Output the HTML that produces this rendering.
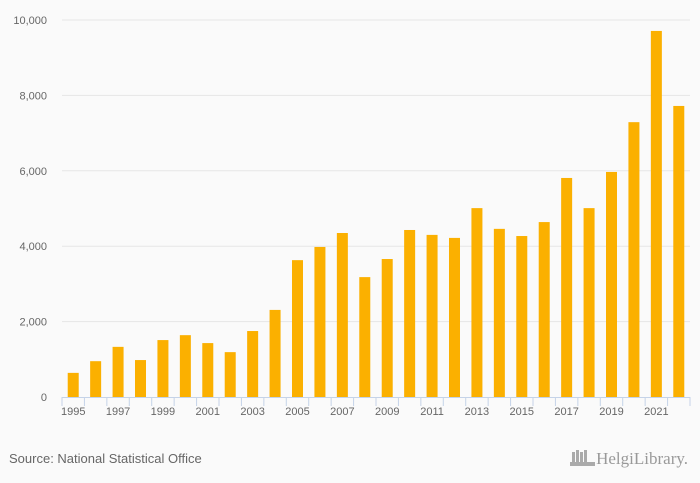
<!DOCTYPE html>
<html><head><meta charset="utf-8"><style>
body{margin:0;background:#fafafa;font-family:"Liberation Sans",sans-serif}
</style></head><body>
<svg id="c" width="700" height="483" style="display:block;background:#fafafa"></svg>
<script>
const years=[1995,1996,1997,1998,1999,2000,2001,2002,2003,2004,2005,2006,2007,2008,2009,2010,2011,2012,2013,2014,2015,2016,2017,2018,2019,2020,2021,2022];
const values=[640,950,1330,980,1510,1640,1430,1190,1750,2310,3630,3980,4350,3180,3660,4430,4300,4220,5010,4460,4270,4640,5810,5010,5970,7290,9710,7720];
const yTicks=[0,2000,4000,6000,8000,10000];
const yTickLabels=["0","2,000","4,000","6,000","8,000","10,000"];
const svg=document.getElementById('c');const NS='http://www.w3.org/2000/svg';
const x0=62,x1=690,y0=397,y1=20,yMax=10000;
const band=(x1-x0)/years.length;
const ys=v=>y0-(v/yMax)*(y0-y1);
const xs=i=>x0+i*band;
function mk(t,a,txt){const e=document.createElementNS(NS,t);for(const k in a)e.setAttribute(k,a[k]);if(txt!=null)e.textContent=txt;svg.appendChild(e);return e;}
yTicks.forEach((t,i)=>{
 if(t>0){const g=mk('line',{x1:x0,x2:x1,y1:ys(t),y2:ys(t),stroke:'#e6e6e6','stroke-width':1});
 
 }
 const l=mk('text',{x:47,y:ys(t)+4,'text-anchor':'end','font-size':11,fill:'#666'},yTickLabels[i]);
 
 
});
values.forEach((v,i)=>{
 const r=mk('rect',{x:xs(i)+band/2-5.5,y:ys(v),width:11,height:y0-ys(v),fill:'#fbb000'});
 
 
});
const ax=mk('line',{x1:x0,x2:x1,y1:y0+0.5,y2:y0+0.5,stroke:'#c5d3e8','stroke-width':1});


for(let i=0;i<=years.length;i++){
 const t=mk('line',{x1:xs(i),x2:xs(i),y1:y0,y2:y0+9,stroke:'#c5d3e8','stroke-width':1});
 
 
}
years.forEach((yr,i)=>{if(i%2===0){
 const l=mk('text',{x:xs(i)+band/2,y:y0+18,'text-anchor':'middle','font-size':11,fill:'#666'},String(yr));
 
 
}});
const s=mk('text',{x:9,y:463,'font-size':13,fill:'#666'},'Source: National Statistical Office');


const lg=mk('text',{x:688,y:464,'text-anchor':'end','font-size':17,fill:'#999','font-family':'Liberation Serif, serif'},'HelgiLibrary.');


const ic=mk('g',{fill:'#aaa'});


[[572,452,3,12],[576,450,3,14],[580,452,3,12],[584,450,3,14],[570,462,25,4]].forEach(r=>{const e=document.createElementNS(NS,'rect');e.setAttribute('x',r[0]);e.setAttribute('y',r[1]);e.setAttribute('width',r[2]);e.setAttribute('height',r[3]);ic.appendChild(e);});
</script>
</body></html>
